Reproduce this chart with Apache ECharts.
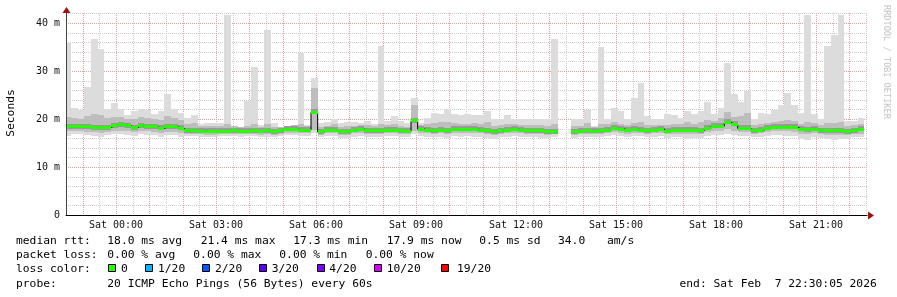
<!DOCTYPE html>
<html><head><meta charset="utf-8">
<script src="https://cdn.jsdelivr.net/npm/echarts@6/dist/echarts.min.js"></script>
<style>html,body{margin:0;padding:0;background:#fff}#c{width:897px;height:297px}</style>
</head><body><div id="c"></div>
<script>
// ---- data (hours relative to Sat 00:00, 12-minute bins, values in ms) ----
const binStartHour = -1.55;
const binHours = 0.2;
const median = [
 18.4,18.4,18.4,18.4,18.2,18.2,18.2,18.6,18.75,18.6,
 18.2,18.6,18.4,18.4,18.05,18.4,18.4,18.05,17.6,17.6,
 17.4,17.4,17.4,17.4,17.4,17.6,17.4,17.4,17.6,17.4,
 17.6,17.3,17.6,17.9,17.9,17.7,17.7,21.4,17.3,17.7,
 17.7,17.3,17.3,17.7,17.9,17.5,17.5,17.5,17.7,17.7,
 17.5,17.4,19.6,17.9,17.7,17.5,17.7,17.5,17.9,17.9,
 17.9,17.9,17.7,17.5,17.3,17.5,17.7,17.9,17.7,17.6,
 17.6,17.5,17.3,17.3,null,null,17.3,17.4,17.5,17.4,
 17.6,17.7,18.1,17.9,17.7,17.9,17.7,17.6,17.7,17.9,
 17.4,17.7,17.7,17.7,17.7,17.6,18.05,18.5,18.5,19.3,
 18.9,18.05,18.05,17.6,17.7,18.1,18.3,18.3,18.3,18.3,
 17.9,17.8,17.9,17.6,17.6,17.6,17.6,17.3,17.6,17.9
];
const pingMax = [
 35.8,22.2,21.9,26.7,36.7,34.6,22.1,23.4,22.1,20.8,
 21.7,22.1,21.9,21.0,21.7,25.2,22.1,21.3,20.3,20.8,
 19.0,19.2,19.2,19.2,41.7,18.4,18.3,23.8,30.9,18.75,
 38.5,19.2,18.3,18.6,18.75,33.7,18.75,28.5,19.2,19.4,
 20.0,19.2,19.4,19.4,19.2,19.6,19.0,35.2,19.6,20.6,
 19.6,19.2,24.3,19.2,20.3,21.2,21.0,22.0,21.0,20.8,
 21.0,20.9,20.9,21.7,20.0,20.0,20.9,20.0,20.0,20.1,
 20.1,20.1,20.0,36.7,null,null,20.0,20.0,21.9,18.6,
 34.9,20.1,22.2,21.7,20.1,24.3,27.6,20.6,19.9,20.1,
 21.0,20.8,20.3,21.7,21.0,21.7,23.5,21.0,22.2,31.7,
 25.2,23.6,25.8,20.1,21.3,21.0,21.9,22.9,25.5,22.9,
 21.3,41.7,21.0,20.1,35.2,37.5,41.7,19.6,19.6,20.3
];
const pingUpper = [
 20.4,20.2,20.0,20.6,21.0,20.8,20.2,20.4,20.5,20.0,
 20.0,20.4,20.2,20.0,19.8,20.6,20.2,19.8,19.0,19.2,
 18.6,18.6,18.6,18.5,18.9,18.5,18.4,18.6,19.0,18.4,
 19.0,18.4,18.3,18.6,18.7,19.0,18.6,26.5,18.4,18.6,
 18.9,18.4,18.5,18.6,18.7,18.8,18.5,19.0,18.7,19.0,
 18.6,18.4,23.0,18.7,19.0,19.2,19.3,19.4,19.2,19.0,
 19.0,19.1,19.0,19.3,18.6,18.8,19.0,19.0,18.8,18.8,
 18.8,18.7,18.6,19.0,null,null,18.6,18.6,19.2,18.3,
 19.0,19.0,19.3,19.0,18.7,19.2,19.4,18.8,18.7,18.8,
 18.7,19.0,18.9,19.4,19.0,19.3,19.8,19.6,20.2,21.5,
 20.4,20.6,21.2,18.7,19.0,19.1,19.4,19.6,19.8,19.5,
 19.0,19.4,19.2,18.7,19.2,19.2,19.3,18.6,18.7,18.9
];
const pingLower = [
 17.4,17.4,17.4,17.3,17.2,17.1,17.2,17.5,17.6,17.4,
 17.2,17.5,17.4,17.3,17.1,17.3,17.3,17.0,16.9,16.9,
 16.8,16.7,16.7,16.8,16.8,16.9,16.8,16.8,16.9,16.7,
 16.9,16.7,16.9,17.1,17.1,17.0,17.0,17.8,16.7,17.0,
 17.0,16.7,16.7,17.0,17.1,16.9,16.8,16.9,17.0,17.0,
 16.9,16.8,17.5,17.1,17.0,16.9,17.0,16.8,17.1,17.1,
 17.1,17.0,17.0,16.8,16.6,16.8,17.0,17.1,17.0,16.9,
 16.9,16.8,16.7,16.8,null,null,16.7,16.8,16.9,16.8,
 16.9,17.0,17.3,17.1,16.9,17.1,17.0,16.9,17.0,17.1,
 16.8,16.9,16.9,16.8,16.9,16.8,17.2,17.5,17.5,17.9,
 17.5,17.2,17.2,16.9,17.0,17.3,17.4,17.4,17.4,17.3,
 16.9,16.8,17.0,16.8,16.7,16.7,16.7,16.6,16.8,16.9
];
const pingMin = [
 16.5,16.9,16.8,16.7,16.4,16.3,16.6,16.9,16.9,16.7,
 16.4,16.8,16.7,16.6,16.3,16.6,16.7,16.3,16.4,16.4,
 16.3,16.2,16.2,16.4,16.4,16.4,16.3,16.4,16.4,16.3,
 16.3,16.2,16.4,16.6,16.6,16.5,16.5,17.0,16.3,16.4,
 16.4,16.0,16.0,16.3,16.5,16.2,16.2,16.3,16.4,16.4,
 16.3,16.3,16.8,16.4,16.3,16.2,16.3,16.1,16.4,16.3,
 16.4,16.3,16.3,16.0,15.9,16.2,16.3,16.4,16.3,16.3,
 16.2,16.0,16.0,16.2,null,null,16.1,16.3,16.3,16.3,
 16.3,16.4,16.7,16.5,16.2,16.5,16.4,16.2,16.3,16.4,
 16.0,16.3,16.3,15.9,16.1,16.0,16.5,16.7,16.6,16.9,
 16.7,16.5,16.5,16.2,16.3,16.5,16.6,16.6,16.5,16.4,
 15.8,15.7,16.2,16.1,15.8,15.7,15.8,15.9,16.2,16.3
];
const xLabelHours = [0,3,6,9,12,15,18,21];
const xLabelTexts = ['Sat 00:00','Sat 03:00','Sat 06:00','Sat 09:00','Sat 12:00','Sat 15:00','Sat 18:00','Sat 21:00'];
const hourGrid = [-1,0,1,2,3,4,5,6,7,8,9,10,11,12,13,14,15,16,17,18,19,20,21,22];
const halfHourGrid = [-0.5,0.5,1.5,2.5,3.5,4.5,5.5,6.5,7.5,8.5,9.5,10.5,11.5,12.5,13.5,14.5,15.5,16.5,17.5,18.5,19.5,20.5,21.5,22.5];
const majorYGrid = [10,20,30,40];
const minorYGrid = [2,4,6,8,12,14,16,18,22,24,26,28,32,34,36,38,42];
const rttStats = ['18.0 ms avg','21.4 ms max','17.3 ms min','17.9 ms now','0.5 ms sd','34.0','am/s'];
const lossStats = ['0.00 % avg','0.00 % max','0.00 % min','0.00 % now'];
const lossLabels = ['0','1/20','2/20','3/20','4/20','10/20','19/20'];
const lossColors = ['#26ff00','#00b8ff','#0059ff','#5e00ff','#7e00ff','#dd00ff','#ff0000'];
const probeText = '20 ICMP Echo Pings (56 Bytes) every 60s';
const endText = 'end: Sat Feb  7 22:30:05 2026';

// ---- layout ----
const X_MIN = -1.5, X_MAX = 22.53, Y_MAX = 42.08;
const GL = 66, GT = 13, GW = 801, GH = 202;
const MONO = 'DejaVu Sans Mono';
const PINK = '#e6a0a0', GRAY = '#cccccc';

function bandData(lowArr, highArr) {
  const d = [];
  for (let i = 0; i < median.length; i++) {
    if (lowArr[i] == null || highArr[i] == null) continue;
    const s = binStartHour + i * binHours;
    d.push([s, s + binHours, lowArr[i], highArr[i]]);
  }
  return d;
}
function bandSeries(lowArr, highArr, color, z) {
  return {
    type: 'custom', z, xAxisIndex: 0, yAxisIndex: 0, silent: true,
    encode: { x: [0, 1], y: [2, 3] },
    data: bandData(lowArr, highArr),
    renderItem(params, api) {
      const cs = params.coordSys;
      const a = api.coord([api.value(0), api.value(3)]);
      const b = api.coord([api.value(1), api.value(2)]);
      const x0 = Math.round(Math.max(a[0], cs.x));
      const x1 = Math.round(Math.min(b[0], cs.x + cs.width));
      const y0 = Math.round(Math.max(a[1], cs.y));
      const y1 = Math.round(b[1]);
      if (x1 <= x0 || y1 <= y0) return null;
      return { type: 'rect', shape: { x: x0, y: y0, width: x1 - x0, height: y1 - y0 }, style: { fill: color } };
    }
  };
}
function medianSeries(color, up, down, z) {
  return {
    type: 'custom', z, xAxisIndex: 0, yAxisIndex: 0, silent: true,
    encode: { x: [0, 1], y: 2 },
    data: bandData(median, median).map(d => [d[0], d[1], d[2]]),
    renderItem(params, api) {
      const cs = params.coordSys;
      const a = api.coord([api.value(0), api.value(2)]);
      const b = api.coord([api.value(1), api.value(2)]);
      const x0 = Math.round(Math.max(a[0], cs.x));
      const x1 = Math.round(Math.min(b[0], cs.x + cs.width));
      const y0 = Math.round(a[1] - up);
      const y1 = Math.round(a[1] + down);
      if (x1 <= x0) return null;
      return { type: 'rect', shape: { x: x0, y: y0, width: x1 - x0, height: y1 - y0 }, style: { fill: color } };
    }
  };
}
// grid lines drawn through the axes' scales: [orientation (0 = vertical, 1 = horizontal), value, major]
const gridItems = []
  .concat(halfHourGrid.map(v => [0, v, 0]))
  .concat(minorYGrid.map(v => [1, v, 0]))
  .concat(hourGrid.map(v => [0, v, 1]))
  .concat(majorYGrid.map(v => [1, v, 1]));
const gridSeries = {
  type: 'custom', z: 1, xAxisIndex: 0, yAxisIndex: 0, silent: true,
  encode: { x: -1, y: -1 },
  data: gridItems,
  renderItem(params, api) {
    const cs = params.coordSys;
    const vertical = api.value(0) === 0;
    const color = api.value(2) === 1 ? PINK : GRAY;
    let shape;
    if (vertical) {
      const x = Math.round(api.coord([api.value(1), 0])[0]) + 0.5;
      shape = { x1: x, y1: cs.y, x2: x, y2: cs.y + cs.height };
    } else {
      const y = Math.round(api.coord([X_MIN, api.value(1)])[1]) + 0.5;
      shape = { x1: cs.x, y1: y, x2: cs.x + cs.width, y2: y };
    }
    return { type: 'line', shape, style: { stroke: color, fill: null, lineWidth: 1, lineDash: [1, 1] } };
  }
};
const stepData = median.map((m, i) => [binStartHour + i * binHours + binHours / 2, m == null ? '-' : m]);

// ---- legend graphics ----
const g = [];
function txt(x, y, text) {
  g.push({ type: 'text', x, y, silent: true,
    style: { text, fill: '#000', font: '11.3px "' + MONO + '"', align: 'left', verticalAlign: 'middle' } });
}
const R1 = 241, R2 = 255.5, R3 = 269.5, R4 = 283.8;
txt(16, R1, 'median rtt:');
[107.3, 200.7, 293.3, 386.7, 479.3, 558, 607].forEach((x, i) => txt(x, R1, rttStats[i]));
txt(16, R2, 'packet loss:');
[107.3, 193.3, 279.3, 365.7].forEach((x, i) => txt(x, R2, lossStats[i]));
txt(16, R3, 'loss color:');
const swX = [108.5, 145.5, 202.5, 259.5, 317.5, 374.5, 441.5];
const lbX = [121, 158, 215, 271.7, 329.3, 386.7, 457];
lossColors.forEach((c, i) => {
  g.push({ type: 'rect', silent: true, shape: { x: swX[i], y: 264.5, width: 7, height: 7 },
    style: { fill: c, stroke: '#000', lineWidth: 1 } });
  txt(lbX[i], R3, lossLabels[i]);
});
txt(16, R4, 'probe:');
txt(107.3, R4, probeText);
txt(679.5, R4, endText);
g.push({ type: 'text', x: 11, y: 113, rotation: Math.PI / 2, silent: true,
  style: { text: 'Seconds', fill: '#000', font: '11.3px "' + MONO + '"', align: 'center', verticalAlign: 'middle' } });
g.push({ type: 'text', x: 886, y: 5, rotation: -Math.PI / 2, silent: true,
  style: { text: 'RRDTOOL / TOBI OETIKER', fill: '#c4c4c4', font: '8.6px "' + MONO + '"', align: 'left', verticalAlign: 'middle' } });
g.push({ type: 'polygon', silent: true, z: 20, shape: { points: [[GL - 3.5, GT], [GL + 0.5, GT - 6], [GL + 4.5, GT]] }, style: { fill: '#a01010' } });
g.push({ type: 'polygon', silent: true, z: 20, shape: { points: [[GL + GW + 1, 211.5], [GL + GW + 7, 215.5], [GL + GW + 1, 219.5]] }, style: { fill: '#a01010' } });

const option = {
  animation: false,
  backgroundColor: '#fff',
  grid: { left: GL, top: GT, width: GW, height: GH, containLabel: false },
  xAxis: [
    { type: 'value', min: X_MIN, max: X_MAX, z: 10, position: 'bottom',
      axisLine: { show: true, onZero: false, lineStyle: { color: '#000', width: 1 } },
      axisTick: { show: false },
      splitLine: { show: false },
      axisLabel: { customValues: xLabelHours, color: '#111', fontFamily: MONO, fontSize: 10, margin: 5,
        formatter: v => xLabelTexts[xLabelHours.indexOf(Math.round(v))] || '' } }
  ],
  yAxis: [
    { type: 'value', min: 0, max: Y_MAX, interval: 10, z: 10,
      axisLine: { show: true, onZero: false, lineStyle: { color: '#444', width: 1 } },
      axisTick: { show: false }, splitLine: { show: false },
      axisLabel: { color: '#111', fontFamily: MONO, fontSize: 10, margin: 6, showMaxLabel: false,
        formatter: v => v === 0 ? '0' : v + ' m' } }
  ],
  series: [
    gridSeries,
    bandSeries(pingMin, pingMax, '#dcdcdc', 2),
    bandSeries(pingLower, pingUpper, '#bdbdbd', 3),
    medianSeries('#9a9a9a', 3, 2, 4),
    { type: 'line', z: 5, xAxisIndex: 0, yAxisIndex: 0, data: stepData, step: 'middle', symbol: 'none',
      connectNulls: false, silent: true, lineStyle: { color: '#000', width: 1 } },
    medianSeries('#26ff00', 1.5, 1.5, 6)
  ],
  graphic: g
};
const chart = echarts.init(document.getElementById('c'), null, { renderer: 'canvas' });
chart.setOption(option);
</script></body></html>
